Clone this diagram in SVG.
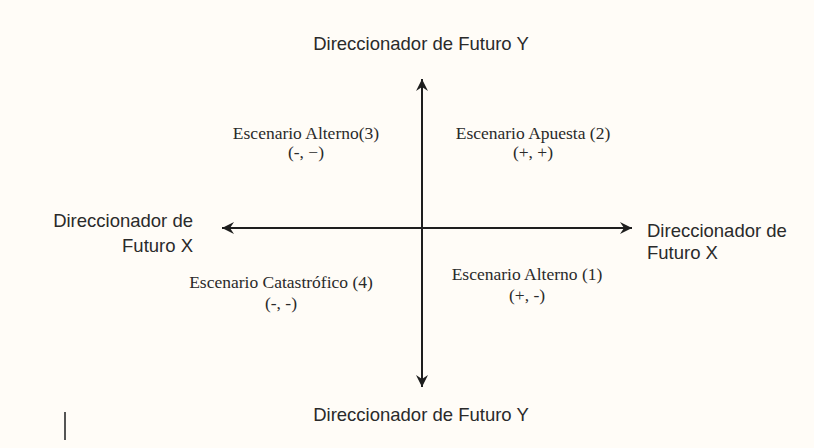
<svg xmlns="http://www.w3.org/2000/svg" width="814" height="448" viewBox="0 0 814 448">
  <defs>
    <style>
      .sans { font-family: "Liberation Sans", Arial, sans-serif; font-size: 18.5px; fill: #2a2a2a; }
      .serif { font-family: "Liberation Serif", "Times New Roman", serif; font-size: 17.5px; fill: #2a2a2a; text-anchor: middle; }
      .axis { stroke: #1e1e1e; stroke-width: 2; fill: none; marker-end: url(#arrow); }
    </style>
    <marker id="arrow" markerUnits="userSpaceOnUse" markerWidth="14" markerHeight="14" viewBox="0 0 14 14" refX="12" refY="7" orient="auto">
      <path d="M0,1 L12,7 L0,13 L4,7 Z" fill="#1e1e1e"/>
    </marker>
  </defs>
  <rect x="0" y="0" width="814" height="448" fill="#fffcf7"/>

  <g id="connectors">
    <line class="axis" x1="422" y1="228" x2="422" y2="79"/>
    <line class="axis" x1="422" y1="228" x2="422" y2="387"/>
    <line class="axis" x1="422" y1="228" x2="222" y2="228"/>
    <line class="axis" x1="422" y1="228" x2="632" y2="228"/>
  </g>

  <g id="label-top">
    <text class="sans" x="421" y="50" text-anchor="middle">Direccionador de Futuro Y</text>
  </g>
  <g id="label-bottom">
    <text class="sans" x="421" y="421" text-anchor="middle">Direccionador de Futuro Y</text>
  </g>
  <g id="label-left">
    <text class="sans" x="193" y="227" text-anchor="end">Direccionador de</text>
    <text class="sans" x="193" y="252" text-anchor="end">Futuro X</text>
  </g>
  <g id="label-right">
    <text class="sans" x="647" y="237">Direccionador de</text>
    <text class="sans" x="647" y="259">Futuro X</text>
  </g>

  <g id="q-top-left">
    <text class="serif" x="306" y="139">Escenario Alterno(3)</text>
    <text class="serif" x="306" y="158">(-, −)</text>
  </g>
  <g id="q-top-right">
    <text class="serif" x="533" y="139">Escenario Apuesta (2)</text>
    <text class="serif" x="533" y="158">(+, +)</text>
  </g>
  <g id="q-bottom-left">
    <text class="serif" x="281" y="288">Escenario Catastrófico (4)</text>
    <text class="serif" x="281" y="309">(-, -)</text>
  </g>
  <g id="q-bottom-right">
    <text class="serif" x="527" y="280">Escenario Alterno (1)</text>
    <text class="serif" x="527" y="301">(+, -)</text>
  </g>

  <line x1="65" y1="412" x2="65" y2="440" stroke="#555" stroke-width="2"/>
</svg>
